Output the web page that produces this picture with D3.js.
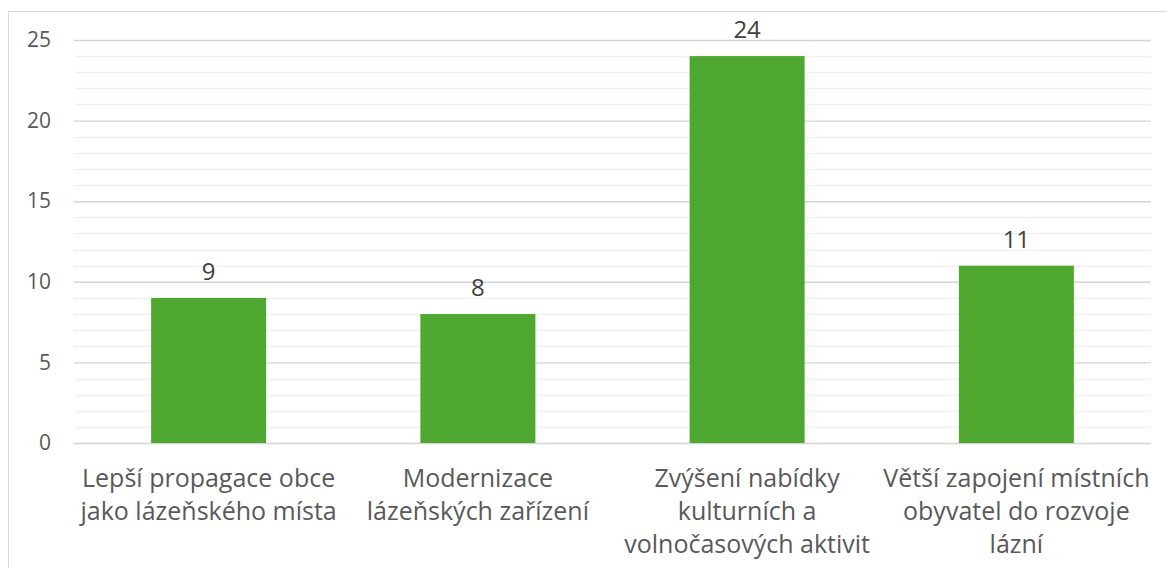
<!DOCTYPE html>
<html>
  <head>
    <meta charset="utf-8">
    <script src="https://cdn.jsdelivr.net/npm/d3@7"></script>
    <style>
      body { margin: 0; background: #ffffff; }
      svg { display: block; font-family: "Open Sans", sans-serif; }
    </style>
  </head>
  <body>
    <script>

      // category labels, already split into lines like in the original
      var categories = [
        ["Lepší propagace obce", "jako lázeňského místa"],
        ["Modernizace", "lázeňských zařízení"],
        ["Zvýšení nabídky", "kulturních a", "volnočasových aktivit"],
        ["Větší zapojení místních", "obyvatel do rozvoje", "lázní"]
      ];
      var values = [9, 8, 24, 11];
      var yTicks = [0, 5, 10, 15, 20, 25];
      var yMinorTicks = d3.range(0, 26, 1);

      var width = 1167;
      var height = 568;

      // plot area
      var pad = {left: 74, right: 1151, top: 40, bottom: 443};

      var svg = d3.select("body")
                  .append("svg")
                  .attr("width", width)
                  .attr("height", height);

      // outer chart border (runs off the right and bottom edge)
      svg.append("rect")
         .attr("x", 8.5)
         .attr("y", 11.5)
         .attr("width", width + 20)
         .attr("height", height + 20)
         .attr("fill", "#ffffff")
         .attr("stroke", "#d9d9d9")
         .attr("stroke-width", 1);

      var xScale = d3.scaleBand()
                     .domain(d3.range(categories.length))
                     .range([pad.left, pad.right])
                     .paddingInner(0.573)
                     .paddingOuter(0.2865);

      var yScale = d3.scaleLinear()
                     .domain([0, 25])
                     .range([pad.bottom, pad.top]);

      // minor gridlines
      svg.append("g")
         .selectAll("line")
         .data(yMinorTicks.filter(function(d){ return d % 5 != 0; }))
         .enter()
         .append("line")
         .attr("x1", pad.left)
         .attr("x2", pad.right)
         .attr("y1", function(d){ return Math.round(yScale(d)) + 0.5; })
         .attr("y2", function(d){ return Math.round(yScale(d)) + 0.5; })
         .attr("stroke", "#f0f0f0")
         .attr("stroke-width", 1.3);

      // major gridlines
      var yAxis = d3.axisLeft(yScale)
                    .tickValues(yTicks)
                    .tickSize(-(pad.right - pad.left))
                    .tickPadding(23);
      var gy = svg.append("g")
                  .attr("transform", "translate(" + pad.left + ",0)")
                  .call(yAxis);
      gy.select(".domain").remove();
      gy.selectAll(".tick line")
        .attr("stroke", "#d4d4d4")
        .attr("stroke-width", 1.4);
      gy.selectAll(".tick text")
        .attr("fill", "#595959")
        .style("font-size", "21px")
        .style("font-family", "'Open Sans', sans-serif");

      // bars
      svg.selectAll(".bar")
         .data(values)
         .enter()
         .append("rect")
         .attr("class", "bar")
         .attr("x", function(d, i){ return xScale(i); })
         .attr("y", function(d){ return yScale(d); })
         .attr("width", xScale.bandwidth())
         .attr("height", function(d){ return yScale(0) - yScale(d); })
         .attr("fill", "#4ea72e");

      // value labels above bars
      svg.selectAll(".val")
         .data(values)
         .enter()
         .append("text")
         .attr("class", "val")
         .attr("x", function(d, i){ return xScale(i) + xScale.bandwidth() / 2; })
         .attr("y", function(d){ return yScale(d) - 18; })
         .attr("text-anchor", "middle")
         .attr("fill", "#404040")
         .style("font-size", "24px")
         .text(function(d){ return d; });

      // category labels
      var cats = svg.selectAll(".cat")
                    .data(categories)
                    .enter()
                    .append("text")
                    .attr("class", "cat")
                    .attr("text-anchor", "middle")
                    .attr("fill", "#595959")
                    .style("font-size", "25px");
      cats.selectAll("tspan")
          .data(function(d, i){
            return d.map(function(line){ return {line: line, i: i}; });
          })
          .enter()
          .append("tspan")
          .attr("x", function(d){ return xScale(d.i) + xScale.bandwidth() / 2; })
          .attr("y", function(d, j){ return 487 + j * 33; })
          .text(function(d){ return d.line; });
    </script>
  </body>
</html>
